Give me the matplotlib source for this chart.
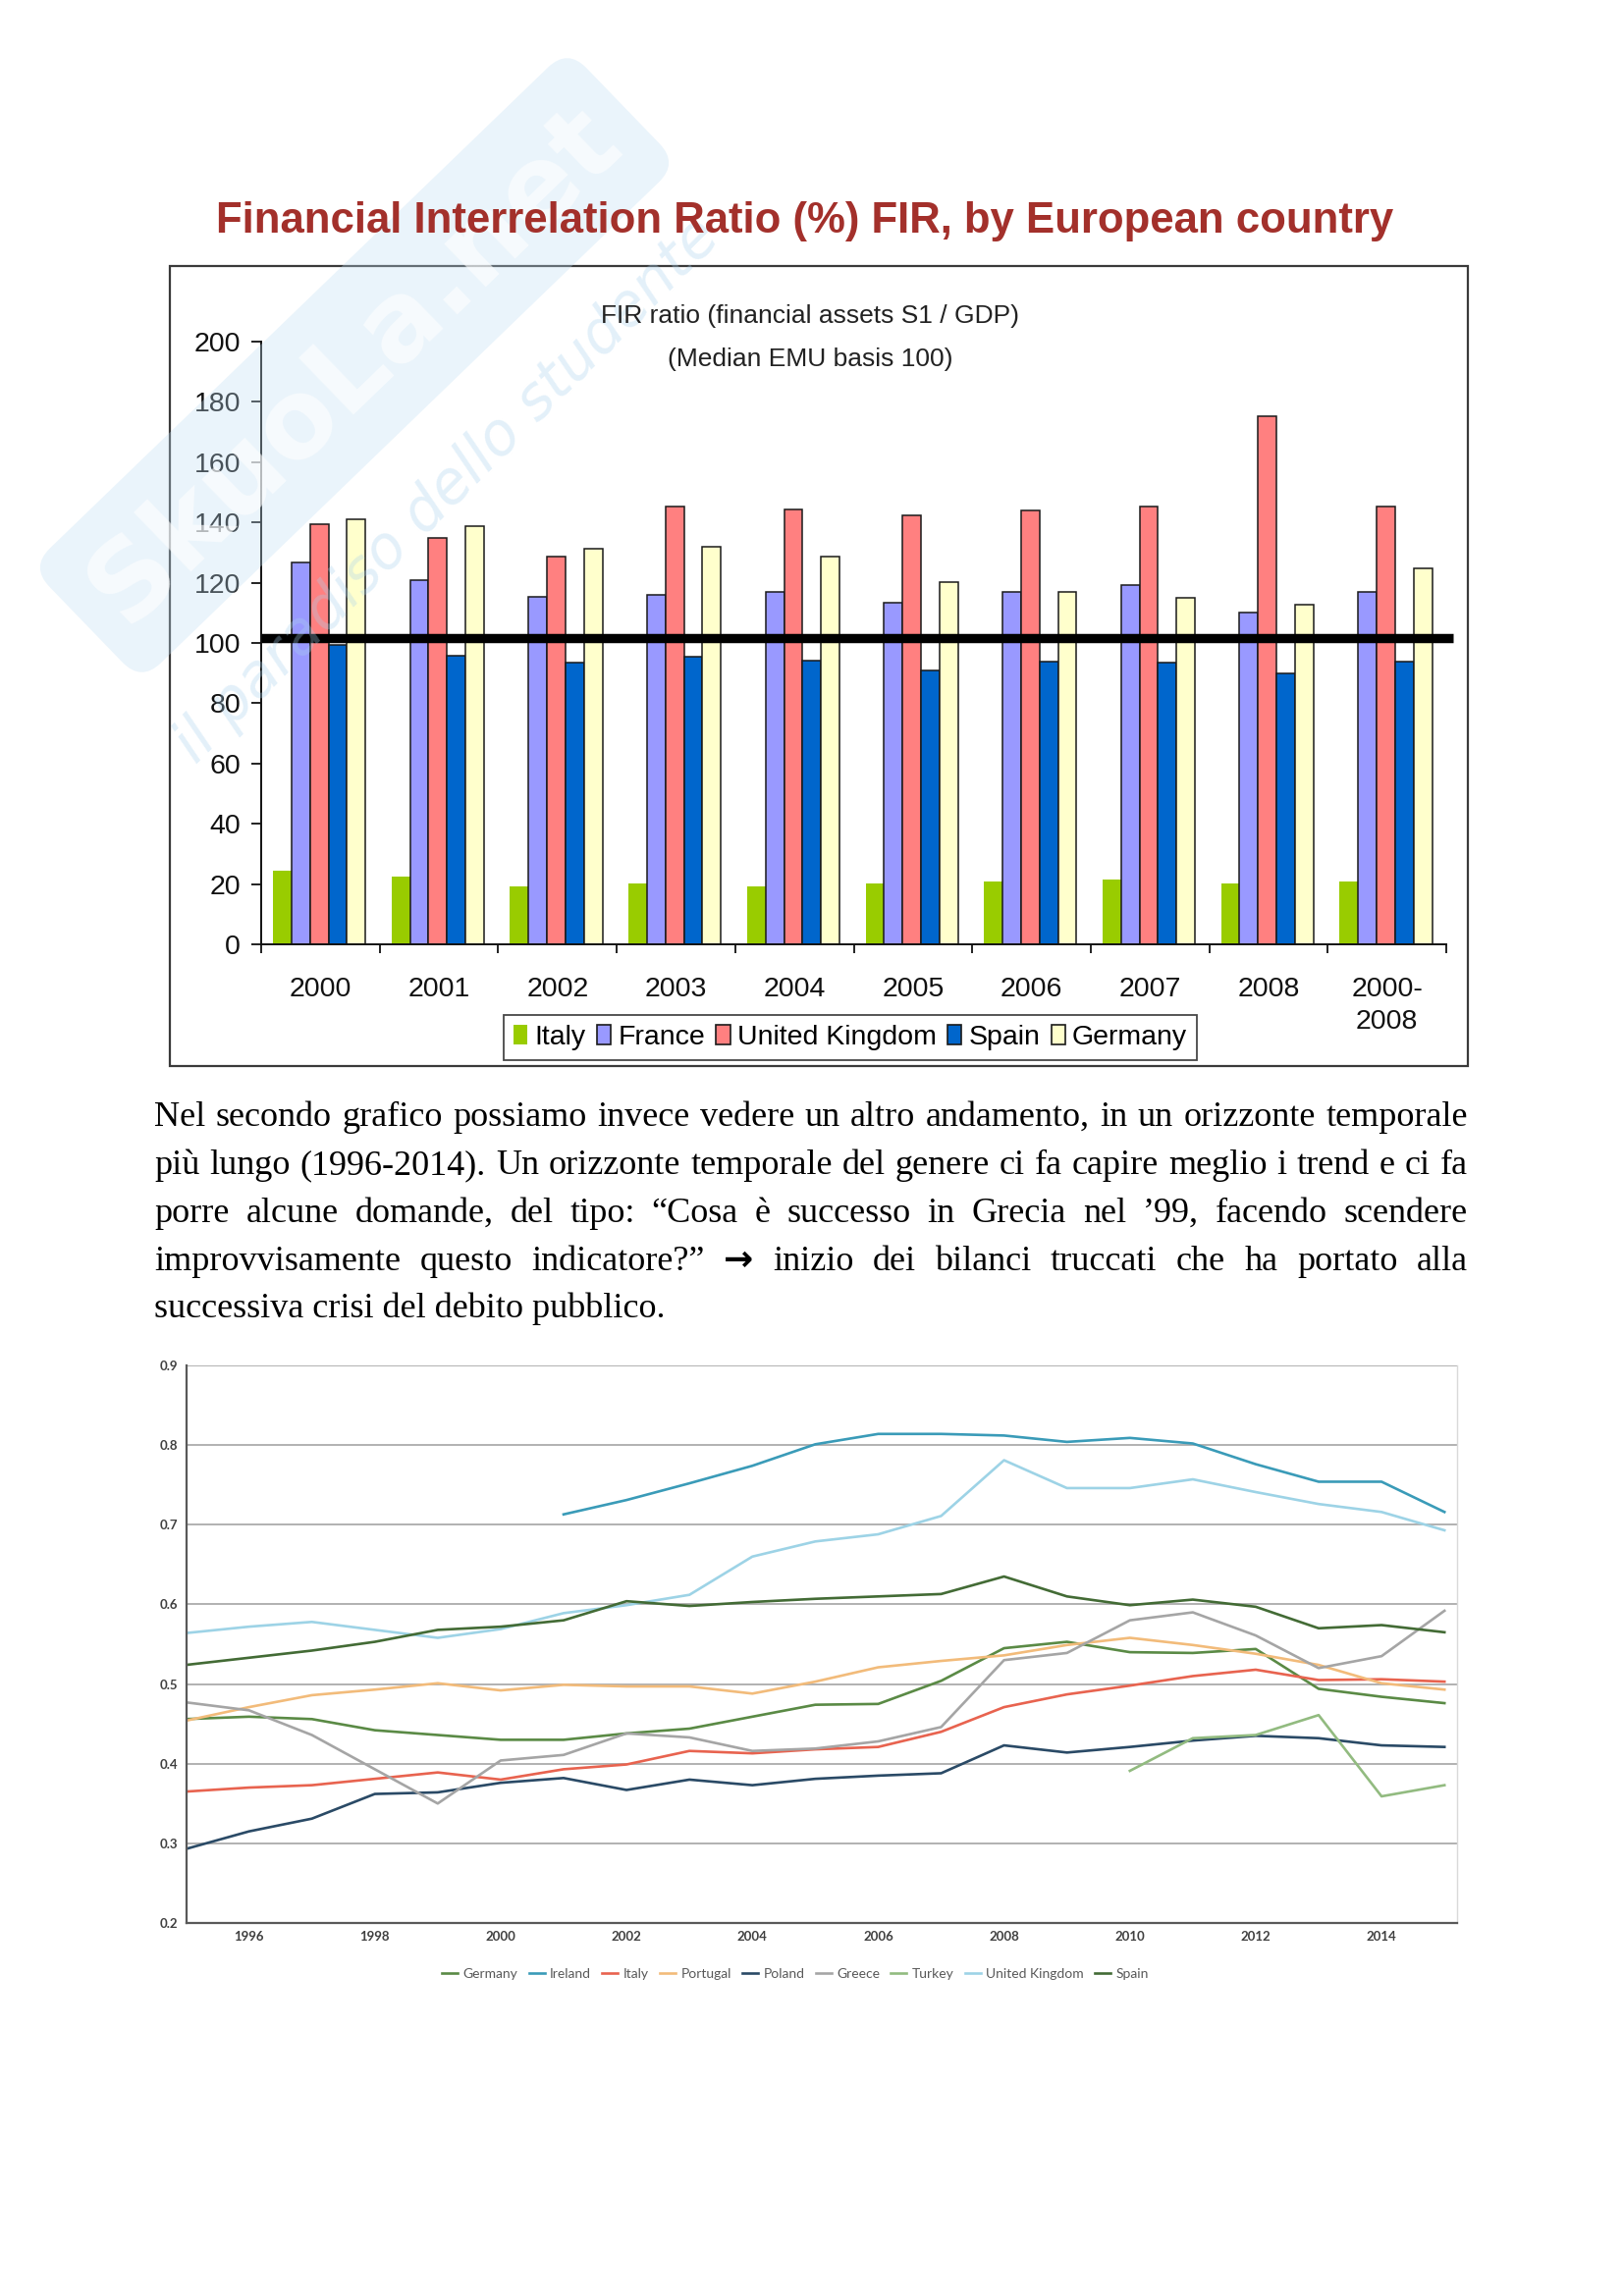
import numpy as np
import matplotlib
matplotlib.use('Agg')
import matplotlib.pyplot as plt
from matplotlib import font_manager
from matplotlib.patches import Rectangle, Patch

W, H = 1653, 2339
DPI = 100

# ---------------- bar chart data ----------------
bar_categories = ['2000', '2001', '2002', '2003', '2004', '2005', '2006', '2007', '2008', '2000-\n2008']
bar_series_names = ['Italy', 'France', 'United Kingdom', 'Spain', 'Germany']
italy_bar = [24.3, 22.5, 19.2, 20.3, 19.2, 20.3, 20.9, 21.4, 20.3, 20.9]
france_bar = [126.7, 121.0, 115.3, 116.0, 117.0, 113.3, 117.0, 119.2, 110.0, 117.0]
uk_bar = [139.5, 134.8, 128.6, 145.2, 144.3, 142.5, 144.0, 145.2, 175.4, 145.2]
spain_bar = [99.5, 95.9, 93.5, 95.4, 94.0, 91.0, 93.8, 93.5, 90.0, 93.8]
germany_bar = [141.0, 138.7, 131.4, 132.0, 128.6, 120.2, 117.0, 115.0, 112.8, 124.9]
reference_level = 101.5
bar_yticks = [0, 20, 40, 60, 80, 100, 120, 140, 160, 180, 200]

# ---------------- line chart data ----------------
years = [1995, 1996, 1997, 1998, 1999, 2000, 2001, 2002, 2003, 2004, 2005,
         2006, 2007, 2008, 2009, 2010, 2011, 2012, 2013, 2014, 2015]
nan = np.nan
germany = [.456, .459, .456, .442, .436, .430, .430, .438, .444, .459, .474,
           .475, .504, .545, .553, .540, .539, .544, .494, .484, .476]
ireland = [nan, nan, nan, nan, nan, nan, .713, .731, .752, .774, .801,
           .814, .814, .812, .804, .809, .802, .776, .754, .754, .716]
italy = [.365, .370, .373, .381, .389, .380, .393, .399, .416, .413, .418,
         .421, .440, .471, .487, .498, .510, .518, .505, .506, .503]
portugal = [.454, .471, .486, .493, .501, .492, .499, .497, .497, .488, .503,
            .521, .529, .536, .549, .558, .549, .538, .524, .501, .493]
poland = [.293, .315, .331, .362, .364, .376, .382, .367, .380, .373, .381,
          .385, .388, .423, .414, .421, .429, .435, .432, .423, .421]
greece = [.477, .467, .436, .393, .350, .404, .411, .438, .433, .416, .419,
          .428, .446, .530, .539, .580, .590, .561, .520, .535, .592]
turkey = [nan, nan, nan, nan, nan, nan, nan, nan, nan, nan, nan,
          nan, nan, nan, nan, .391, .432, .436, .461, .359, .373]
united_kingdom = [.564, .572, .578, .568, .558, .569, .589, .599, .612, .660, .679,
                  .688, .711, .781, .746, .746, .757, .741, .726, .716, .693]
spain = [.524, .533, .542, .553, .568, .572, .580, .604, .598, .603, .607,
         .610, .613, .635, .610, .599, .606, .597, .570, .574, .565]
line_names = ['Germany', 'Ireland', 'Italy', 'Portugal', 'Poland', 'Greece',
              'Turkey', 'United Kingdom', 'Spain']
line_yticks = [0.2, 0.3, 0.4, 0.5, 0.6, 0.7, 0.8, 0.9]
line_xticks = [1996, 1998, 2000, 2002, 2004, 2006, 2008, 2010, 2012, 2014]

paragraph = [
    "Nel secondo grafico possiamo invece vedere un altro andamento, in un orizzonte temporale",
    "più lungo (1996-2014). Un orizzonte temporale del genere ci fa capire meglio i trend e ci fa",
    "porre alcune domande, del tipo: “Cosa è successo in Grecia nel ’99, facendo scendere",
    "improvvisamente questo indicatore?” → inizio dei bilanci truccati che ha portato alla",
    "successiva crisi del debito pubblico.",
]

# ---------------- fonts ----------------
available = {f.name for f in font_manager.fontManager.ttflist}
SANS = 'Liberation Sans'
SERIF = ['Liberation Serif', 'DejaVu Serif']
CAL = 'Lato' if 'Lato' in available else 'DejaVu Sans'

fig = plt.figure(figsize=(W / DPI, H / DPI), dpi=DPI)
fig.patch.set_facecolor('white')


def fx(px):
    return px / W


def fy(py):
    return 1 - py / H


def rect(l, t, r, b):
    return [fx(l), fy(b), (r - l) / W, (b - t) / H]


# ================= BAR CHART =================
fig.text(fx(820), fy(225), 'Financial Interrelation Ratio (%) FIR, by European country',
         ha='center', va='center', fontsize=31.5, weight='bold', color='#A3302B', family=SANS)

fig.add_artist(Rectangle((fx(173), fy(1086)), (1495 - 173) / W, (1086 - 271) / H,
                         transform=fig.transFigure, fill=False, edgecolor='#3a3a3a', lw=1.6))

ax1 = fig.add_axes(rect(266, 348, 1473, 962))
ax1.patch.set_alpha(0)
xpos = np.arange(len(bar_categories))
bw = 0.156
bar_colors = ['#99CC00', '#9999FF', '#FF8080', '#0066CC', '#FFFFCC']
bar_series = [italy_bar, france_bar, uk_bar, spain_bar, germany_bar]
handles = []
for i, (name, vals, c) in enumerate(zip(bar_series_names, bar_series, bar_colors)):
    off = (i - 2) * bw - 0.01
    if name == 'Italy':
        ax1.bar(xpos + off, vals, bw, color=c, edgecolor='none', zorder=2)
        handles.append(Patch(facecolor=c, edgecolor='none'))
    else:
        ax1.bar(xpos + off, vals, bw, color=c, edgecolor='#1a1a1a', linewidth=1.1, zorder=2)
        handles.append(Patch(facecolor=c, edgecolor='#1a1a1a', linewidth=1.2))
ax1.set_xlim(-0.5, len(bar_categories) - 0.5)
ax1.set_ylim(0, 200)
x0, x1 = ax1.get_xlim()
ax1.plot([x0, x1 + 0.06], [reference_level, reference_level], color='black', lw=6.8,
         solid_capstyle='butt', zorder=4, clip_on=False)
for s in ['top', 'right']:
    ax1.spines[s].set_visible(False)
for s in ['left', 'bottom']:
    ax1.spines[s].set_color('#111111')
    ax1.spines[s].set_linewidth(1.4)
ax1.set_yticks(bar_yticks)
ax1.tick_params(axis='y', direction='out', length=7, width=1.3, pad=8, labelsize=20.5,
                colors='#111111')
ax1.set_xticks(xpos, bar_categories)
ax1.tick_params(axis='x', which='major', length=0, pad=24, labelsize=20.5, colors='#111111')
ax1.set_xticks(np.arange(-0.5, len(bar_categories), 1.0), minor=True)
ax1.tick_params(axis='x', which='minor', direction='out', length=6.5, width=1.3, color='#111111')
for lab in ax1.get_xticklabels() + ax1.get_yticklabels():
    lab.set_family(SANS)
for lab in ax1.get_xticklabels():
    lab.set_linespacing(1.35)

fig.text(fx(825), fy(322), 'FIR ratio (financial assets S1 / GDP)', ha='center', va='center',
         fontsize=19, family=SANS, color='#222222')
fig.text(fx(825), fy(366), '(Median EMU basis 100)', ha='center', va='center',
         fontsize=19, family=SANS, color='#222222')

leg1 = fig.legend(handles, bar_series_names, loc='center', bbox_to_anchor=(fx(866), fy(1057)),
                  ncol=5, prop={'family': SANS, 'size': 20.5}, frameon=True, fancybox=False,
                  edgecolor='#1a1a1a', handlelength=0.5, handleheight=0.7, handletextpad=0.25,
                  columnspacing=0.4, borderpad=0.35, borderaxespad=0)
leg1.get_frame().set_linewidth(1.3)

# ================= PARAGRAPH =================
renderer = fig.canvas.get_renderer()
left_px, right_px = 157, 1495
baselines = [1147, 1196, 1245, 1294, 1342]
PFS = 26


def word_text(w):
    if w == '→':
        return fig.text(0, 0, w, fontsize=PFS, family='DejaVu Sans', weight='bold',
                        va='baseline', ha='left')
    return fig.text(0, 0, w, fontsize=PFS, family=SERIF, va='baseline', ha='left')


for li, (line, by) in enumerate(zip(paragraph, baselines)):
    if li == len(paragraph) - 1:
        fig.text(fx(left_px), fy(by), line, fontsize=PFS, family=SERIF, va='baseline', ha='left')
        continue
    words = line.split(' ')
    tws = [word_text(w) for w in words]
    widths = [t.get_window_extent(renderer).width for t in tws]
    gap = (right_px - left_px - sum(widths)) / (len(words) - 1)
    xcur = left_px
    for t, wd in zip(tws, widths):
        t.set_position((fx(xcur), fy(by)))
        xcur += wd + gap

# ================= LINE CHART =================
ax2 = fig.add_axes(rect(189.5, 1391, 1484, 1959))
ax2.set_xlim(1995, 2015.2)
ax2.set_ylim(0.2, 0.9)
ax2.set_yticks(line_yticks, [f'{v:.1f}' for v in line_yticks])
ax2.set_xticks(line_xticks)
ax2.yaxis.grid(True, color='#ABABAB', lw=1.3)
ax2.set_axisbelow(True)
ax2.spines['top'].set_visible(False)
ax2.spines['right'].set_color('#D9D9D9')
ax2.spines['right'].set_linewidth(1.0)
for s in ['left', 'bottom']:
    ax2.spines[s].set_color('#595959')
    ax2.spines[s].set_linewidth(1.6)
ax2.tick_params(length=0, pad=6, labelsize=9.5, colors='#404040')
for lab in ax2.get_xticklabels() + ax2.get_yticklabels():
    lab.set_family(CAL)
    lab.set_weight('bold')

line_colors = ['#5A8A45', '#3A9BB8', '#E8634F', '#F2BB7A', '#2A4A66', '#A5A5A5',
               '#92BB80', '#9DD3E6', '#436B35']
line_series = [germany, ireland, italy, portugal, poland, greece, turkey, united_kingdom, spain]
for name, vals, c in zip(line_names, line_series, line_colors):
    ax2.plot(years, vals, color=c, lw=1.9, label=name)

leg2 = fig.legend(*ax2.get_legend_handles_labels(), loc='center', bbox_to_anchor=(fx(810), fy(2011)),
                  ncol=9, frameon=False, prop={'family': CAL, 'size': 10}, labelcolor='#595959',
                  handlelength=1.15, handletextpad=0.4, columnspacing=0.8, borderaxespad=0)

# ================= WATERMARK (faint, beneath the titles) =================
fig.text(fx(361), fy(372), 'SkuoLa.net', rotation=44, ha='center', va='center', fontsize=80,
         weight='bold', color='white', alpha=0.6, zorder=1, family='DejaVu Sans',
         bbox=dict(boxstyle='round,pad=0.25', facecolor='#BFDDF3', edgecolor='none', alpha=0.32))
fig.text(fx(455), fy(500), 'il paradiso dello studente', rotation=45, ha='center', va='center',
         fontsize=43, style='italic', color='#A9D2EE', alpha=0.32, zorder=1, family='DejaVu Sans')

fig.savefig('out.png', dpi=DPI)
